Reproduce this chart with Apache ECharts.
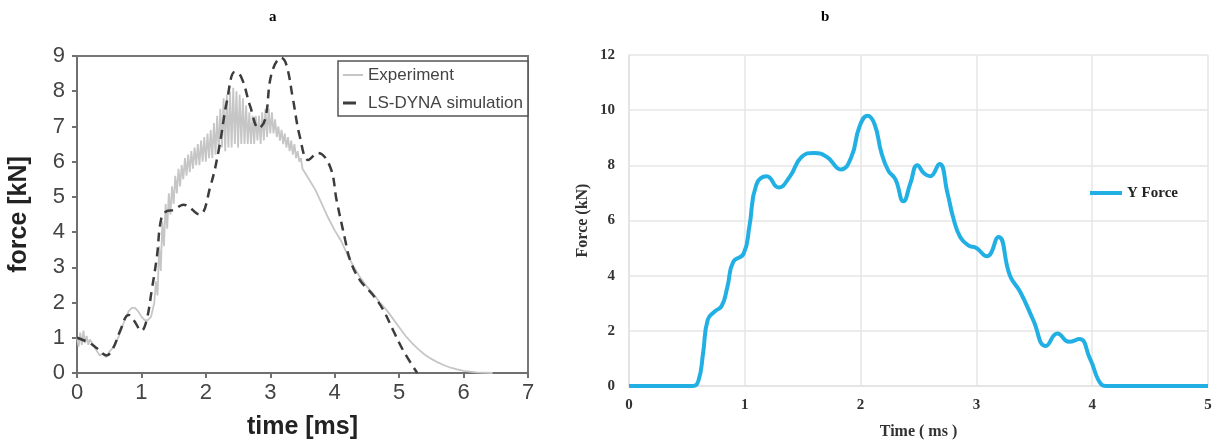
<!DOCTYPE html>
<html>
<head>
<meta charset="utf-8">
<title>Force histories</title>
<script src="https://cdn.jsdelivr.net/npm/echarts@6/dist/echarts.min.js"></script>
<style>
  html, body { margin: 0; padding: 0; background: #fff; }
  #chart { width: 1218px; height: 445px; }
</style>
</head>
<body>
<div id="chart"></div>
<script>
// Panel a: measured force (noisy) against the LS-DYNA simulation
const expTime = [
  0, 0.025, 0.05, 0.075, 0.1, 0.125, 0.15, 0.175, 0.2, 0.25, 0.3, 0.35, 0.4, 0.45,
  0.5, 0.55, 0.6, 0.65, 0.7, 0.75, 0.8, 0.85, 0.9, 0.95, 1.0, 1.05, 1.1, 1.15,
  1.2, 1.225, 1.25, 1.275, 1.3, 1.325, 1.35, 1.375, 1.4, 1.425, 1.45, 1.475,
  1.5, 1.525, 1.55, 1.575, 1.6, 1.625, 1.65, 1.675, 1.7, 1.725, 1.75, 1.775,
  1.8, 1.825, 1.85, 1.875, 1.9, 1.925, 1.95, 1.975, 2.0, 2.025, 2.05, 2.075,
  2.1, 2.125, 2.15, 2.175, 2.2, 2.225, 2.25, 2.275, 2.3, 2.325, 2.35, 2.375,
  2.4, 2.425, 2.45, 2.475, 2.5, 2.525, 2.55, 2.575, 2.6, 2.625, 2.65, 2.675,
  2.7, 2.725, 2.75, 2.775, 2.8, 2.825, 2.85, 2.875, 2.9, 2.925, 2.95, 2.975,
  3.0, 3.025, 3.05, 3.075, 3.1, 3.125, 3.15, 3.175, 3.2, 3.225, 3.25, 3.275,
  3.3, 3.325, 3.35, 3.375, 3.4, 3.425, 3.45, 3.475, 3.5,
  3.6, 3.7, 3.8, 3.9, 4.0, 4.1, 4.2, 4.3, 4.4, 4.5, 4.6, 4.7, 4.8, 4.9, 5.0,
  5.1, 5.2, 5.3, 5.4, 5.5, 5.6, 5.7, 5.8, 5.9, 6.0, 6.2, 6.45
];
const expForce = [
  1.0, 0.75, 1.15, 0.8, 1.2, 0.85, 1.05, 0.8, 0.95, 0.8, 0.65, 0.5, 0.55, 0.45,
  0.6, 0.7, 0.85, 1.05, 1.3, 1.55, 1.75, 1.85, 1.85, 1.75, 1.6, 1.5, 1.5, 1.6,
  2.0, 2.6, 2.2, 3.6, 2.9, 4.3, 3.6, 4.8, 4.1, 5.1, 4.5, 5.3,
  4.8, 5.6, 5.1, 5.8, 5.3, 5.9, 5.5, 6.1, 5.6, 6.2, 5.7, 6.3,
  5.8, 6.4, 5.9, 6.5, 5.9, 6.6, 6.0, 6.7, 6.0, 6.8, 6.1, 6.9,
  6.1, 7.1, 6.2, 7.3, 6.3, 7.5, 6.4, 7.8, 6.3, 7.9, 6.4, 8.0,
  6.4, 8.1, 6.5, 8.0, 6.4, 7.9, 6.5, 7.8, 6.5, 7.6, 6.5, 7.4,
  6.5, 7.3, 6.5, 7.3, 6.6, 7.3, 6.5, 7.4, 6.6, 7.5, 6.7, 7.5,
  6.8, 7.4, 6.8, 7.2, 6.7, 7.0, 6.6, 6.9, 6.5, 6.8, 6.4, 6.7,
  6.3, 6.6, 6.2, 6.5, 6.1, 6.3, 6.0, 6.1, 5.8,
  5.5, 5.2, 4.8, 4.4, 4.05, 3.75, 3.35, 3.0, 2.7, 2.45, 2.25, 2.0, 1.8, 1.55, 1.3,
  1.05, 0.85, 0.67, 0.52, 0.4, 0.3, 0.22, 0.15, 0.1, 0.06, 0.02, 0
];

const simTime = [
  0, 0.1, 0.2, 0.31, 0.46, 0.56, 0.67, 0.8, 0.88, 1.0, 1.08, 1.16, 1.24, 1.31,
  1.4, 1.5, 1.65, 1.9, 2.07, 2.2, 2.33, 2.45, 2.55, 2.69, 2.82, 2.92, 3.02,
  3.17, 3.25, 3.35, 3.46, 3.59, 3.74, 3.93, 4.03, 4.16, 4.24, 4.39, 4.6,
  4.75, 4.91, 5.06, 5.28
];
const simForce = [
  1.0, 0.93, 0.85, 0.7, 0.5, 0.7, 1.2, 1.65, 1.5, 1.2, 1.5, 2.35, 3.3, 4.4,
  4.6, 4.63, 4.78, 4.5, 5.3, 6.33, 7.75, 8.55, 8.4, 7.56, 6.95, 7.2, 8.5,
  8.95, 8.75, 7.8, 6.7, 6.05, 6.25, 5.85, 4.9, 3.8, 3.2, 2.64, 2.2,
  1.8, 1.2, 0.65, 0.0
];

// Panel b: simulated Y force
const yTime = [
  0, 0.55, 0.6, 0.64, 0.68, 0.74, 0.8, 0.85, 0.9, 0.99, 1.04, 1.1, 1.19, 1.29,
  1.39, 1.49, 1.6, 1.71, 1.83, 1.92, 1.99, 2.06, 2.12, 2.18, 2.24, 2.3, 2.37,
  2.43, 2.49, 2.55, 2.6, 2.68, 2.75, 2.8, 2.86, 2.93, 3.0, 3.09, 3.19, 3.29,
  3.38, 3.49, 3.6, 3.7, 3.8, 3.89, 3.98, 4.08, 4.12, 5
];
const yForce = [
  0, 0, 0.2, 1.2, 2.4, 2.7, 2.9, 3.6, 4.5, 4.8, 5.8, 7.3, 7.6, 7.2,
  7.6, 8.3, 8.45, 8.3, 7.85, 8.3, 9.4, 9.8, 9.5, 8.45, 7.8, 7.5, 6.7,
  7.35, 8.0, 7.7, 7.6, 8.05, 7.0, 6.1, 5.4, 5.1, 5.0, 4.7, 5.4, 4.0,
  3.4, 2.4, 1.45, 1.9, 1.6, 1.7, 1.0, 0.05, 0, 0
];

const pairs = (xs, ys) => xs.map((x, i) => [x, ys[i]]);

const sans = 'Liberation Sans, Arial, sans-serif';
const serif = 'Liberation Serif, Times New Roman, serif';

// Legend keys drawn as plain strokes: a solid bar, a single dash, and a thick bar
const solidKey = 'path://M0,0H20V2H0Z';
const dashKey = 'path://M0,0H13V3H0Z M20,0L20,3';
const thickKey = 'path://M0,0H32V4H0Z';

const chart = echarts.init(document.getElementById('chart'), null, { renderer: 'canvas' });

chart.setOption({
  backgroundColor: '#fff',
  animation: false,
  title: [
    { text: 'a', left: 264, top: 5, textStyle: { fontFamily: serif, fontSize: 15, fontWeight: 'bold', color: '#000' } },
    { text: 'b', left: 816, top: 5, textStyle: { fontFamily: serif, fontSize: 15, fontWeight: 'bold', color: '#000' } }
  ],
  legend: [
    {
      orient: 'vertical',
      left: 338, top: 61,
      padding: [4, 5, 3, 5],
      itemGap: 8,
      itemWidth: 20, itemHeight: 3,
      backgroundColor: '#fff',
      borderColor: '#555', borderWidth: 1.5,
      textStyle: { fontFamily: sans, fontSize: 17, color: '#444', lineHeight: 20 },
      data: [
        { name: 'Experiment', icon: solidKey, itemStyle: { color: '#c6c6c6' } },
        { name: 'LS-DYNA simulation', icon: dashKey, itemStyle: { color: '#3c3c3c' } }
      ]
    },
    {
      left: 1090, top: 185,
      padding: 0,
      itemWidth: 32, itemHeight: 4,
      textStyle: { fontFamily: serif, fontSize: 15, fontWeight: 'bold', color: '#222', lineHeight: 16 },
      data: [{ name: 'Y Force', icon: thickKey, itemStyle: { color: '#22b0e4' } }]
    }
  ],
  grid: [
    { left: 77, right: 690, top: 56, bottom: 72, show: true, borderColor: '#777', borderWidth: 2, backgroundColor: 'transparent' },
    { left: 629, right: 10, top: 55, bottom: 58 }
  ],
  xAxis: [
    {
      gridIndex: 0, type: 'value', min: 0, max: 7, interval: 1,
      name: 'time [ms]', nameLocation: 'middle', nameGap: 42,
      nameTextStyle: { fontFamily: sans, fontSize: 25, fontWeight: 'bold', color: '#222' },
      axisLine: { show: true, onZero: false, lineStyle: { color: '#707070', width: 2 } },
      axisTick: { show: true, length: 5, lineStyle: { color: '#707070', width: 2 } },
      axisLabel: { fontFamily: sans, fontSize: 22, color: '#444', margin: 9 },
      splitLine: { show: false }
    },
    {
      gridIndex: 1, type: 'value', min: 0, max: 5, interval: 1,
      name: 'Time ( ms )', nameLocation: 'middle', nameGap: 38,
      nameTextStyle: { fontFamily: serif, fontSize: 16, fontWeight: 'bold', color: '#333' },
      axisLine: { show: true, onZero: false, lineStyle: { color: '#e2e2e2', width: 1.5 } },
      axisTick: { show: false },
      axisLabel: { fontFamily: serif, fontSize: 15, fontWeight: 'bold', color: '#333', margin: 12 },
      splitLine: { show: true, lineStyle: { color: '#e6e6e6', width: 1.5 } }
    }
  ],
  yAxis: [
    {
      gridIndex: 0, type: 'value', min: 0, max: 9, interval: 1,
      name: 'force [kN]', nameLocation: 'middle', nameGap: 45,
      nameTextStyle: { fontFamily: sans, fontSize: 25, fontWeight: 'bold', color: '#222' },
      axisLine: { show: true, lineStyle: { color: '#707070', width: 2 } },
      axisTick: { show: true, length: 5, lineStyle: { color: '#707070', width: 2 } },
      axisLabel: { fontFamily: sans, fontSize: 22, color: '#444', margin: 12 },
      splitLine: { show: false }
    },
    {
      gridIndex: 1, type: 'value', min: 0, max: 12, interval: 2,
      name: 'Force (kN)', nameLocation: 'middle', nameGap: 38,
      nameTextStyle: { fontFamily: serif, fontSize: 16, fontWeight: 'bold', color: '#333' },
      axisLine: { show: true, lineStyle: { color: '#e2e2e2', width: 1.5 } },
      axisTick: { show: false },
      axisLabel: { fontFamily: serif, fontSize: 15, fontWeight: 'bold', color: '#333', margin: 14 },
      splitLine: { show: true, lineStyle: { color: '#e6e6e6', width: 1.5 } }
    }
  ],
  series: [
    {
      name: 'Experiment', type: 'line', xAxisIndex: 0, yAxisIndex: 0,
      data: pairs(expTime, expForce),
      symbol: 'none', smooth: false, z: 2,
      lineStyle: { color: '#c6c6c6', width: 1.8 },
      itemStyle: { color: '#c6c6c6' }
    },
    {
      name: 'LS-DYNA simulation', type: 'line', xAxisIndex: 0, yAxisIndex: 0,
      data: pairs(simTime, simForce),
      symbol: 'none', smooth: 0.4, z: 3,
      lineStyle: { color: '#3c3c3c', width: 2.5, type: [9, 6] },
      itemStyle: { color: '#3c3c3c' }
    },
    {
      name: 'Y Force', type: 'line', xAxisIndex: 1, yAxisIndex: 1,
      data: pairs(yTime, yForce),
      symbol: 'none', smooth: 0.5, z: 3,
      lineStyle: { color: '#22b0e4', width: 4 },
      itemStyle: { color: '#22b0e4' }
    }
  ]
});
</script>
</body>
</html>
